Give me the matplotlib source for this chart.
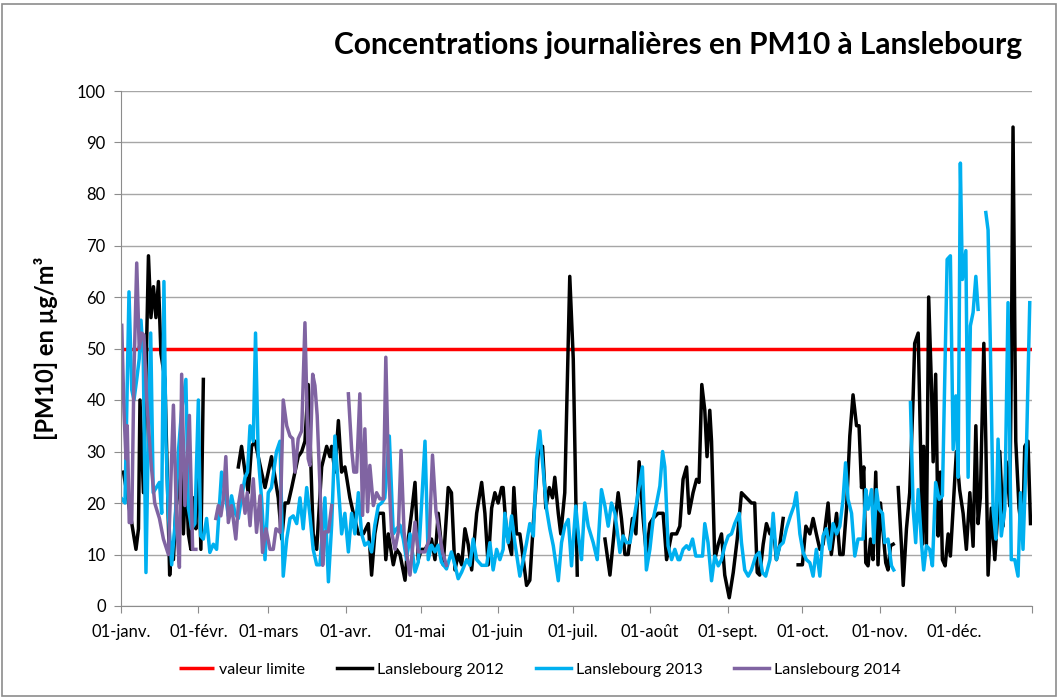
import numpy as np
import matplotlib
matplotlib.use("Agg")
import matplotlib.pyplot as plt
from matplotlib.patches import Rectangle

plt.rcParams['font.family'] = ['Lato', 'DejaVu Sans']

title = "Concentrations journalières en PM10 à Lanslebourg"
ylabel = "[PM10] en µg/m³"
month_starts = [0, 31, 59, 90, 120, 151, 181, 212, 243, 273, 304, 334, 365]
month_labels = ["01-janv.", "01-févr.", "01-mars", "01-avr.", "01-mai", "01-juin",
                "01-juil.", "01-août", "01-sept.", "01-oct.", "01-nov.", "01-déc.", ""]
limit_value = 50
series_names = ["valeur limite", "Lanslebourg 2012", "Lanslebourg 2013", "Lanslebourg 2014"]

# day of year (0 = 1 Jan) ; None = gap in the record
day_2012 = [1, 5, 6, 7, 7.6, 9, 11, 12, 13, 14, 15, 16, 17.6, 19.5, 20, 21, 22, 24, 25, 26, 27, 28, 29, 30, 31, 32, 33,
            None,
            47, 48.3, 49.7, 51, 52.3, 53.7, 55, 56.3, 57.7, 59, 60.3, 61.7, 63, 64.4, 65.7, 67, 68.4, 69.7, 71, 72.4, 73.7, 75,
            77, 78.4, 80.4, 82.4, 83.7, 84.4, 85.7, 87.1, 88.4, 89.7, 90.4, 91.7, 93.1, 95.1, 97.1, 99.1, 100.4, 101.7,
            103.1, 105.1, 106.1, 107.1, 109.1, 110.4, 111.8, 113.8, 115.1, 116.4, 117.8, 119.1, 120.4, 121.8, 123.1,
            124.4, 125.8, 127.1, 129.1, 131.1, 132.4, 133.8, 135.1, 136.5, 137.8, 139.1, 140.5, 142.5, 144.5, 145.8, 147.1,
            148.5, 149.8, 151.1, 152.5, 153.1, 154.5, 156.5, 157.4, 158.5, 159.8, 161.2, 162.5, 163.8, 165.2, 167.2,
            168.9, 170.2, 171.6, 172.9, 173.8, 175.2, 176.2, 177.8, 179.8, 181.2, 182.8,
            None,
            193.9, 195.9, 197.9, 199.2, 200.5, 201.9, 203.2, 204.9, 206.3, 207.6, 209.2, 210.5, 211.9, 213.2, 215.2,
            217.2, 218.6, 220.6, 222.6,
            223.9, 225.2, 226.6, 227.6, 229.2, 230.6, 231.6, 232.7, 233.9, 234.8, 235.9, 236.6, 237.9, 239.3, 240.6,
            241.9, 243.7, 245.3, 246.9, 248.6, 250.6, 252.6, 253.9, 254.9, 255.9, 257.3, 258.6, 260, 261.3, 262.6, 264, 265.3,
            None,
            271.3, 273, 274.4, 276, 277.3, 278.6, 280, 281.3, 283.3, 284.6, 286.7, 288, 289.3, 290.7, 292, 293.3, 294.7, 295.7,
            296.7, 297.6, 298.4, 299.3, 300.3, 301.3, 302.4, 303.3, 304.3, 305.1, 306.4, 307.3, 308.3, 309.4,
            None,
            311.4, 312.7, 313.4, 314.7, 316, 317.4, 318, 319.4, 320.3, 321.1, 321.6, 322.7, 323.6, 324.7, 325.4, 326.4,
            327.4, 328.3, 329.1, 330.2, 331.4, 332.3, 333.4, 334.7, 336, 337.4, 338.7, 340.1, 341.4, 342.5, 343.4, 344.3,
            345.7, 346.5, 347.4, 348.7, 350.1, 351, 352.1, 353.4, 354.7, 356.1, 356.7, 357.4, 358.5, 359.8, 361.2, 362.1,
            363.4, 364.4]
pm_2012 = [26, 14, 11, 15, 40, 22, 68, 56, 62, 56, 63, 49, 44, 6, 10, 9, 19, 26, 14, 26, 14, 11, 21, 15, 31, 11, 44,
           None,
           27, 31, 26, 22, 31, 32, 29, 26, 23, 26, 29, 25, 21, 13, 20, 20, 23, 26, 29, 30, 32, 43,
           14, 11, 27, 31, 29, 31, 26, 36, 26, 27, 25, 21, 18, 14, 14, 16, 6, 14,
           18, 18, 9, 14, 8, 11, 10, 5, 13, 18, 24, 9, 11, 11, 12,
           13, 9, 18, 8, 23, 22, 7, 10, 8, 15, 12, 7, 18, 24, 18, 8,
           19, 22, 20, 23, 23, 14, 10, 23, 14, 14, 9, 4, 5, 16, 30,
           31, 19, 23, 21, 25, 18, 14, 22, 64, 48, 6,
           None,
           13, 6, 16, 22, 17, 10, 10, 17, 14, 28, 17, 10, 16, 17, 18,
           18, 9, 14, 14,
           15.5, 24.6, 27, 18, 22, 24.6, 24, 43, 38, 29, 38, 32, 9, 12, 14,
           6, 1.6, 6.5, 13, 22, 21, 20, 20, 6.5, 6, 12, 16, 14, 15.5, 9, 12, 17,
           None,
           8, 8, 15.5, 14, 17, 14, 11, 12, 20, 10, 18, 10, 10, 19, 33, 41, 35, 35,
           23, 27, 8.4, 7.8, 13, 9, 26, 8, 20, 15.5, 8.4, 7, 11.7, 12,
           None,
           23, 11.7, 4, 15, 22, 41, 51, 53, 32, 12, 31, 12, 60, 43, 28, 45,
           13.6, 26, 9, 7.8, 14, 9.7, 19, 30, 22.6, 18, 11, 22, 11.6, 35, 16, 21,
           51, 32, 6, 19, 9, 16, 30, 15.5, 28, 19.4, 46, 93, 32, 19, 13.6, 31,
           32, 16]

day_2013 = [0.3, 1.6, 3.2, 4.3, 5.2, 6.3, 7.3, 8, 8.9, 10, 10.9, 11.9, 12.9, 15.4, 16.3, 17.2, 18, 19, 20.3, 21.6, 23,
            24.3, 26, 27, 28.3, 29.6, 31, 31.9, 33, 34.3, 35.6, 37, 38.3, 40.3, 41.7, 43, 44.3, 45.7, 47, 48.3, 49.7,
            50.7, 51.7, 53, 53.9, 55, 56.3, 57.7, 59, 60.3, 62.3, 63.7, 65, 66.4, 67.7, 69, 70.4,
            71.7, 73, 74.4, 75.7, 77, 78.4, 79.7, 81.7, 83.1, 84.4, 85.7, 87.1, 88.4, 89.7, 91.1, 92.4, 93.7, 95.1,
            96.4, 97.7, 99.1, 100.4, 101.7, 103.1, 104.4, 105.7, 107.5, 109.1, 110.4, 111.8, 113.1, 114.4, 115.8,
            117.8, 119.1, 120.4, 121.8, 123.1, 124.4, 125.8, 127.1, 128.4, 130.4, 132.4, 133.8, 135.1, 136.5, 138.5,
            139.8, 141.1, 142.5, 144.5, 146.5,
            147.8, 149.1, 150.5, 151.8, 153.1, 153.8, 155.1, 156.5, 157.8, 159.8, 161.2, 162.5, 163.8, 165.2, 166.5,
            167.8, 169.2, 170.5, 171.8, 173.2, 175.2, 176.5, 177.8, 179.2, 180.5, 182.2, 183.6, 184.5, 185.8, 187.2,
            189.2, 190.8, 192.5, 193.9, 195.2, 196.5, 197.9, 199.9, 201.2, 202.5, 203.9, 205.5, 207.2, 208.9, 210.5,
            211.9, 213.2, 214.6, 215.9, 217, 217.9, 219.2, 220.6, 221.9, 223.2,
            223.9, 225.2, 226.6, 227.6, 229, 230.3, 231.6, 233, 233.9, 235.2, 236.6, 237.9, 239.3, 240.6, 241.9,
            243.3, 244.6, 245.9, 247.7, 248.6, 249.9, 251.3, 252.6, 254.3, 255.7, 257, 258.3, 260, 261.3, 262.6, 264,
            265.3, 266.6, 268.2, 269.6, 270.6, 272, 273.3, 274.6, 276, 277.3, 278.6, 280, 281.3, 282.6, 284, 285.3,
            286.7, 288, 289.3, 290.3, 291.3, 292.7, 294, 295.3,
            297.3, 298.4, 299.3, 300.7, 301.6, 302.7, 303.7, 305.1, 306, 307.3, 308.7, 309.6,
            None,
            316.3, 317.4, 318.4, 319.4, 320.7, 321.6, 322.7, 324, 325.1, 326.4, 327.8, 329.1, 331, 332.3, 333.4,
            334.5, 335.4, 336.3, 337.1, 338.5, 339.4, 340.3, 341.4, 342.5, 343.4,
            None,
            346.5, 347.4, 348.3, 349.4, 350.5, 351.4, 352.7, 354.1, 355.4, 356.7, 358.1, 359.4, 360.4, 361.4, 362.8, 364.1]
pm_2013 = [20.8, 20, 61, 42, 40, 44, 48, 55.5, 49, 6.5, 32, 53, 22, 24, 18, 63, 32, 17.5, 8, 15.6, 30,
           38, 44, 19, 15, 16, 40, 13.6, 13, 17, 10.4, 12, 11, 26, 22, 17.5, 21.4, 18, 17, 21, 25,
           26, 35, 32, 53, 29, 21, 9, 22, 23, 30, 32, 5.8, 13, 17, 17.5, 16,
           21, 15, 23, 17.6, 11, 8, 8, 21, 4.7, 15.7, 33, 23, 14, 18, 10.5, 18, 14, 22,
           14, 11.8, 12.4, 10.5, 15.7, 19.5, 20, 21, 33, 14, 15, 15.7, 13, 9, 14,
           6.6, 8.5, 19.5, 32, 9, 11.8, 10.5, 11.8, 8.5, 7.2, 10.5, 7.9, 5.3, 6.6, 9,
           7.9, 13, 9, 7.9, 7.9,
           12.3, 7, 11, 9, 11, 18, 12.3, 17.5, 12.3, 5.8, 9, 12.3, 16, 13.6, 28.5,
           34, 26, 18.8, 15, 11.7, 4.9, 12.3, 15.5, 16.8, 7.8, 19.4, 12.3, 9, 20, 15.5,
           12.3, 9, 22.6, 19.4, 15.5, 20, 18, 10.4, 13.6, 12.3, 12.3, 16.8, 22, 27, 7,
           11, 16.8, 20, 23.3, 30, 27, 11.7, 9, 11, 9,
           9, 11, 11.7, 11, 13, 9.7, 9.7, 9.7, 16, 12.3, 4.9, 9.7, 7.8, 9, 11.7,
           13.6, 14, 16, 18, 12.3, 7, 5.8, 7, 9.7, 10.4, 6.5, 5.8, 9, 18, 9, 11.7,
           12.3, 15, 17.5, 19.4, 22, 14, 10.4, 9, 8.4, 5.8, 11, 5.8, 13.6, 15, 11, 16,
           14, 15.5, 20.7, 27.8, 20.7, 18, 9.7, 13,
           13, 22.6, 18.8, 22.6, 12.3, 22.6, 18.8, 18, 12.3, 13, 7.8, 7,
           None,
           39.5, 18.8, 12.3, 22.6, 12.3, 7, 11.7, 11, 7.8, 24, 20.7, 21.4, 67.3, 68, 30.4,
           40.8, 25, 86, 63.4, 69, 25, 54.4, 57, 64, 57.6,
           None,
           76.4, 73, 51, 18.8, 13, 32.4, 13.6, 18.8, 58.9, 9, 9, 5.8, 22, 11, 31, 58.9]

day_2014 = [0.3, 1.2, 2, 2.5, 3.3, 4.3, 5.2, 6.3, 7.3, 8.3, 9.2, 10.3, 12, 13.5, 15.4, 17, 19, 21, 22.3, 23.4,
            24.3, 25.6, 27.4, 28.7, 30,
            None,
            38, 39, 40, 41, 42, 43, 44.3, 46, 47, 48.3, 49.7, 50.6, 51.7, 53, 54.3, 55.7, 56.7, 58.1, 59.7, 61, 62.1,
            63.7, 65, 66.4, 67.7, 68.8, 69.7, 71, 72.4, 73.7, 75, 75.7, 76.8, 77.7, 78.6, 79.7, 80.8, 81.7, 83.1, 84.4,
            None,
            91.1, 92.4, 93.3, 94.4, 95.7, 96.8, 97.7, 98.8, 99.7, 101.1, 102.4, 103.7, 105.1, 106.1, 107.1, 108.4,
            109.8, 111.1, 112.2, 113.4, 114.7, 115.8, 117.8, 119.1, 120.4, 121.8, 123.5, 124.8, 126.2, 127.5, 128.8, 130.4]
pm_2014 = [54.5, 37.7, 28.6, 35, 16.2, 16.2, 45.5, 66.6, 50, 53, 52.6, 40, 28, 20, 17, 13, 10, 39, 16, 7.5,
           45, 19.5, 37, 11, 11,
           None,
           17, 19.5, 17.5, 20.8, 29, 16.2, 19.5, 13, 19.5, 23.4, 18, 22, 15.6, 24.7, 14.3, 21.4, 10.4, 15, 11, 11, 15,
           14.3, 40, 35, 33, 32.5, 26, 32.5, 34, 55, 28.6, 27.3, 45, 42.8, 37, 23.4, 7.9, 14.4, 14.4, 19.5,
           None,
           41.2, 30.5, 26, 26, 41.2, 17.6, 34.4, 18.3, 27.3, 19.5, 22, 20.8, 20.8, 48.3, 27.3, 14.4,
           11, 14.4, 30.2, 14.4, 9.2, 6, 16.3, 10.5, 10.5, 10.5, 13, 29.3, 18.3, 14.4, 10.5, 7.9]


def arr(v):
    return np.array([np.nan if a is None else a for a in v], dtype=float)


fig = plt.figure(figsize=(10.58, 6.98), dpi=100)
fig.patches.append(Rectangle((0.002, 0.003), 0.996, 0.991, transform=fig.transFigure,
                             fill=False, edgecolor='#8c8c8c', linewidth=1.2))
ax = fig.add_axes([121 / 1058, 1 - 606 / 698, (1032 - 121) / 1058, (606 - 91) / 698])

lw = 2.5
ax.plot([month_starts[0], month_starts[-1]], [limit_value, limit_value], color='#FF0000', lw=lw,
        label=series_names[0], solid_capstyle='butt')
ax.plot(arr(day_2012), arr(pm_2012), color='#000000', lw=lw, label=series_names[1], solid_joinstyle='round')
ax.plot(arr(day_2013), arr(pm_2013), color='#00B0F0', lw=lw, label=series_names[2], solid_joinstyle='round')
ax.plot(arr(day_2014), arr(pm_2014), color='#8064A2', lw=lw, label=series_names[3], solid_joinstyle='round')

ax.set_xlim(month_starts[0], month_starts[-1])
ax.set_ylim(0, 100)
ax.set_yticks(np.arange(0, 101, 10))
ax.set_xticks(month_starts)
ax.set_xticklabels(month_labels)
ax.grid(axis='y', color='#a6a6a6', lw=1)
ax.set_axisbelow(True)
for s in ['top', 'right']:
    ax.spines[s].set_visible(False)
for s in ['left', 'bottom']:
    ax.spines[s].set_color('#8c8c8c')
ax.tick_params(axis='x', length=5, color='#8c8c8c', labelsize=12, pad=8, direction='out')
ax.tick_params(axis='y', length=5, color='#8c8c8c', labelsize=12, pad=6, direction='out')

ax.set_ylabel(ylabel, fontsize=17, fontweight='bold')
ax.yaxis.set_label_coords((58 - 121) / (1032 - 121), 0.5)
fig.text(1022 / 1058, 1 - 45 / 698, title, ha='right', va='center', fontsize=21.5, fontweight='bold')

leg = fig.legend(loc='center', bbox_to_anchor=(540 / 1058, 1 - 670 / 698), ncol=4, frameon=False,
                 fontsize=11.5, handlelength=2.2, handletextpad=0.3, columnspacing=2.0)

fig.savefig('out.png', dpi=100)
